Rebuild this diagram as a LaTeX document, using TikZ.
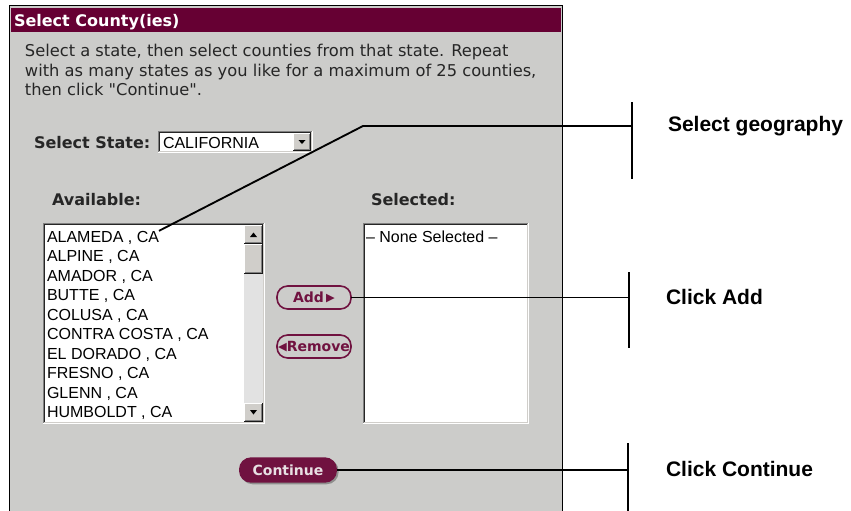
\documentclass[tikz,border=0pt]{standalone}
\usepackage{fontspec}
\setmainfont{DejaVu Sans}[Ligatures=TeXOff]
\newfontfamily\arialfam{Liberation Sans}
\usetikzlibrary{shadows}

\definecolor{panelgray}{RGB}{204,204,202}
\definecolor{titlemaroon}{RGB}{102,0,51}
\definecolor{btnmaroon}{RGB}{112,18,64}
\definecolor{inktext}{RGB}{38,38,38}
\definecolor{darkedge}{RGB}{128,128,128}
\definecolor{trackgray}{RGB}{226,226,226}
\definecolor{facegray}{RGB}{208,206,202}
\definecolor{btntext}{RGB}{232,224,228}

% white list/field with a sunken 3D edge
\newcommand\sunkbox[4]{%
  \fill[white] (#1,#2) rectangle (#3,#4);
  \draw[darkedge] (#1+0.5,#4) -- (#1+0.5,#2+0.5) -- (#3,#2+0.5);
  \draw[black!85] (#1+1.5,#4-1) -- (#1+1.5,#2+1.5) -- (#3-1,#2+1.5);
  \draw[white] (#1,#4-0.5) -- (#3-0.5,#4-0.5) -- (#3-0.5,#2);
  \draw[facegray] (#1+1,#4-1.5) -- (#3-1.5,#4-1.5) -- (#3-1.5,#2+1);
}
% grey scrollbar / dropdown button with a raised 3D edge
\newcommand\raisedbtn[4]{%
  \fill[facegray] (#1,#2) rectangle (#3,#4);
  \draw[white] (#1+0.5,#4) -- (#1+0.5,#2+0.5) -- (#3,#2+0.5);
  \draw[black!90] (#1,#4-0.5) -- (#3-0.5,#4-0.5) -- (#3-0.5,#2);
  \draw[darkedge] (#1+1,#4-1.5) -- (#3-1.5,#4-1.5) -- (#3-1.5,#2+1);
}

\tikzset{
  ui/.style={font=\fontsize{12.2}{14}\selectfont, text=inktext, anchor=base west},
  uibold/.style={font=\bfseries\fontsize{12}{14}\selectfont, text=inktext, anchor=base west},
  listitem/.style={font=\arialfam\fontsize{12}{14}\selectfont, text=black, anchor=base west},
  callout/.style={font=\arialfam\bfseries\fontsize{15.75}{18}\selectfont, text=black, anchor=west},
  leader/.style={line width=1.4pt, black},
  pillbtn/.style={draw=btnmaroon, line width=1.2pt, rounded corners=8pt, fill=panelgray,
    text=btnmaroon, font=\bfseries\fontsize{10.5}{12}\selectfont,
    minimum width=55.5pt, minimum height=17.25pt},
  gobtn/.style={fill=btnmaroon, rounded corners=9pt, text=btntext,
    font=\bfseries\fontsize{10.5}{12}\selectfont, minimum width=73.5pt, minimum height=19pt,
    drop shadow={shadow xshift=1.2pt, shadow yshift=-1.2pt, fill=black, opacity=0.3}},
}

\begin{document}
\begin{tikzpicture}[x=0.75pt, y=-0.75pt, every node/.append style={inner sep=0pt, outer sep=0pt}, line width=0.75pt]
\useasboundingbox (0,0) rectangle (851,511);
\fill[white] (0,0) rectangle (851,511);

% dialog panel
\fill[panelgray] (9,5) rectangle (563,511);
\draw[line width=1.2pt] (9.5,511) -- (9.5,5.5) -- (562.5,5.5) -- (562.5,511);
\fill[titlemaroon] (11,8) rectangle (561,32);
\node[uibold, text=white] (title) at (14,26) {Select County(ies)};

% instructions
\node[ui] (intro1) at (25,56) {Select a state, then select counties from that state. Repeat};
\node[ui] (intro2) at (25,76) {with as many states as you like for a maximum of 25 counties,};
\node[ui] (intro3) at (25,95) {then click "Continue".};

% state dropdown
\node[uibold] (statelbl) at (34,148) {Select State:};
\sunkbox{158}{131}{313}{153}
\node[listitem] (statesel) at (163,148) {CALIFORNIA};
\raisedbtn{293}{133}{311}{151}
\fill (298.5,140) -- (305.5,140) -- (302,144) -- cycle;

% column headings
\node[uibold] (availlbl) at (52,205) {Available:};
\node[uibold] (sellbl) at (371,205) {Selected:};

% available counties list with scrollbar
\sunkbox{43}{223}{265}{424}
\fill[trackgray] (244,244) rectangle (263,403);
\raisedbtn{244}{225}{263}{244}
\fill (250,237) -- (257,237) -- (253.5,232.5) -- cycle;
\raisedbtn{244}{244}{263}{274}
\raisedbtn{244}{403}{263}{422}
\fill (250,410) -- (257,410) -- (253.5,414.5) -- cycle;
\foreach \county [count=\i from 0] in {{ALAMEDA , CA},{ALPINE , CA},{AMADOR , CA},{BUTTE , CA},{COLUSA , CA},{CONTRA COSTA , CA},{EL DORADO , CA},{FRESNO , CA},{GLENN , CA},{HUMBOLDT , CA}}
  \node[listitem] (item\i) at (47,242+19.5*\i) {\county};

% selected counties list
\sunkbox{363}{223}{529}{424}
\node[listitem] (nonesel) at (366,242) {– None Selected –};

% action buttons
\node[pillbtn] (addbtn) at (314,297.5) {Add\,\raisebox{0.2pt}{\fontsize{8.5}{9}\selectfont▶}};
\node[pillbtn] (rembtn) at (314,346.5) {\raisebox{0.2pt}{\fontsize{8.5}{9}\selectfont◀}Remove};
\node[gobtn] (contbtn) at (288,470) {Continue};

% call-out brackets
\coordinate (elbow) at (363,126);
\coordinate (bar1) at (632,126);
\coordinate (bar2) at (629,297.5);
\coordinate (bar3) at (628,470);
\draw[leader] (item0.north east) -- (elbow) -- (bar1);
\draw[leader] (632,102) -- (632,179);
\draw[leader] (addbtn.east) -- (bar2);
\draw[leader] (629,272) -- (629,348);
\draw[leader] (contbtn.east) -- (bar3);
\draw[leader] (628,443) -- (628,511);

\node[callout] (geo) at (668,126) {Select geography};
\node[callout] (addnote) at (666,297) {Click Add};
\node[callout] (contnote) at (666,469) {Click Continue};
\end{tikzpicture}
\end{document}
